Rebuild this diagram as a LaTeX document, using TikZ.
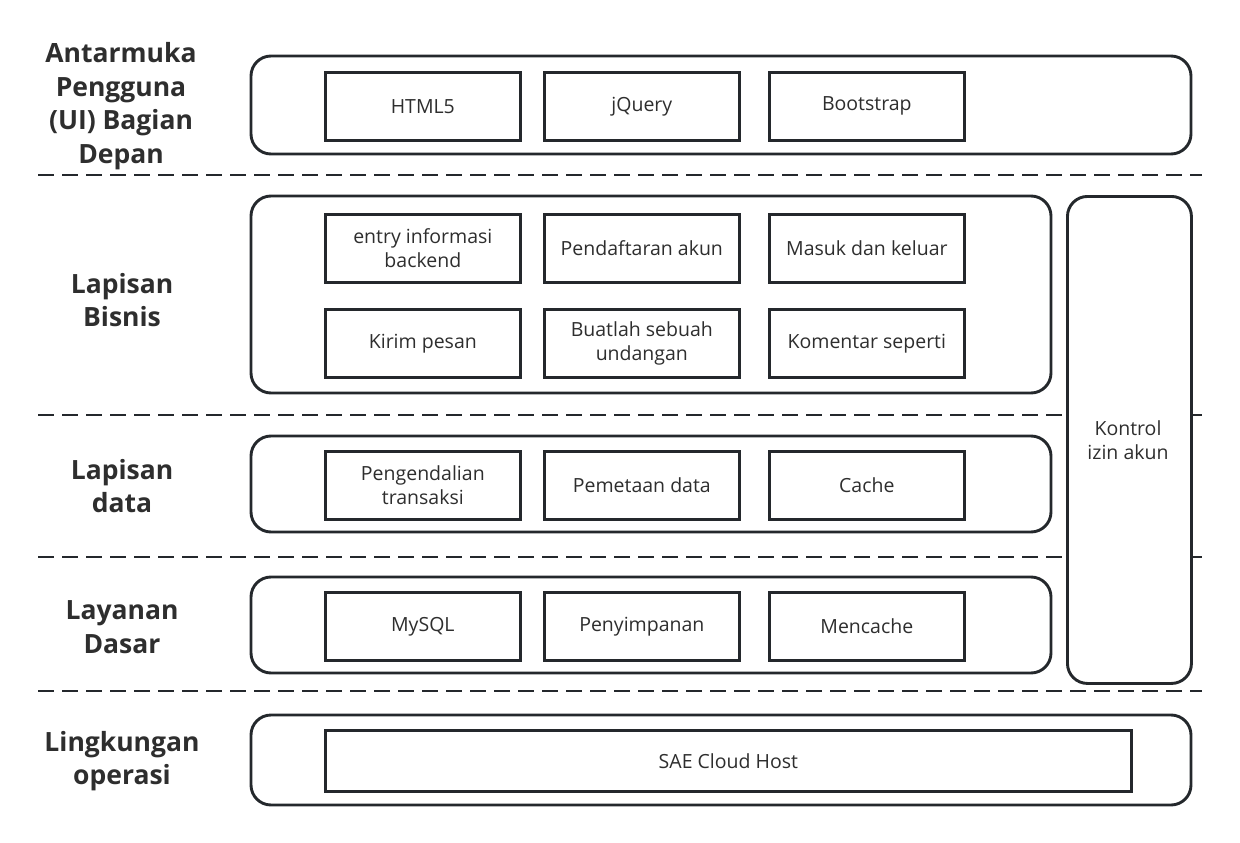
\documentclass[tikz,border=0pt]{standalone}
\usepackage{fontspec}
\setmainfont{Open Sans}
\definecolor{ln}{HTML}{24282C}
\definecolor{tx}{HTML}{2E2E2E}
\begin{document}
\begin{tikzpicture}[x=1pt,y=-1pt,
  cont/.style={draw=ln,line width=2.9pt,rounded corners=20pt,fill=white},
  item/.style={draw=ln,line width=2.7pt,fill=white,minimum width=195pt,minimum height=68pt,inner sep=0pt,text=tx,font=\fontsize{19.5}{24}\selectfont,align=center,anchor=north west},
  lab/.style={text=tx,font=\fontsize{26.5}{33.5}\selectfont\bfseries,align=center},
  sep/.style={draw=ln,line width=2.9pt,dash pattern=on 16pt off 8pt}]
\useasboundingbox (0,0) rectangle (1240,843);
% separators
\coordinate (s1a) at (38,175); \coordinate (s1b) at (1202,175);
\coordinate (s2a) at (38,415); \coordinate (s2b) at (1202,415);
\coordinate (s3a) at (38,557); \coordinate (s3b) at (1202,557);
\coordinate (s4a) at (38,691); \coordinate (s4b) at (1202,691);
\draw[sep] (s1a) -- (s1b);
\draw[sep] (s2a) -- (s2b);
\draw[sep] (s3a) -- (s3b);
\draw[sep] (s4a) -- (s4b);
% labels
\node[lab] (l1) at (121,106) {Antarmuka\\Pengguna\\(UI) Bagian\\Depan};
\node[lab] (l2) at (122,300) {Lapisan\\Bisnis};
\node[lab] (l3) at (122,486) {Lapisan\\data};
\node[lab] (l4) at (122,627) {Layanan\\Dasar};
\node[lab] (l5) at (122,761) {Lingkungan\\operasi};
% containers
\path[cont] (251,56) rectangle (1191,154);
\path[cont] (251,196) rectangle (1051,393);
\path[cont] (251,436) rectangle (1051,532);
\path[cont] (251,577) rectangle (1051,673);
\path[cont] (251,715) rectangle (1191,805);
\node[draw=ln,line width=2.9pt,rounded corners=20pt,fill=white,minimum width=124pt,minimum height=487pt,anchor=north west,inner sep=0pt] (ctl) at (1066,195) {};
\node[text=tx,font=\fontsize{19.5}{24}\selectfont,align=center] (ctlt) at (1128,440) {Kontrol\\izin akun};
% UI
\node[item] (h5) at (324,71) {HTML5};
\node[item] (jq) at (543,71) {jQuery};
\node[item] (bs) at (768,71) {Bootstrap};
% business
\node[item] (b1) at (324,213) {entry informasi\\backend};
\node[item] (b2) at (543,213) {Pendaftaran akun};
\node[item] (b3) at (768,213) {Masuk dan keluar};
\node[item] (b4) at (324,308) {Kirim pesan};
\node[item] (b5) at (543,308) {Buatlah sebuah\\undangan};
\node[item] (b6) at (768,308) {Komentar seperti};
% data
\node[item] (d1) at (324,450) {Pengendalian\\transaksi};
\node[item] (d2) at (543,450) {Pemetaan data};
\node[item] (d3) at (768,450) {Cache};
% base
\node[item] (f1) at (324,591) {MySQL};
\node[item] (f2) at (543,591) {Penyimpanan};
\node[item] (f3) at (768,591) {Mencache};
% ops
\node[item,minimum width=806pt,minimum height=61pt] (sae) at (324,729) {SAE Cloud Host};
\end{tikzpicture}
\end{document}
